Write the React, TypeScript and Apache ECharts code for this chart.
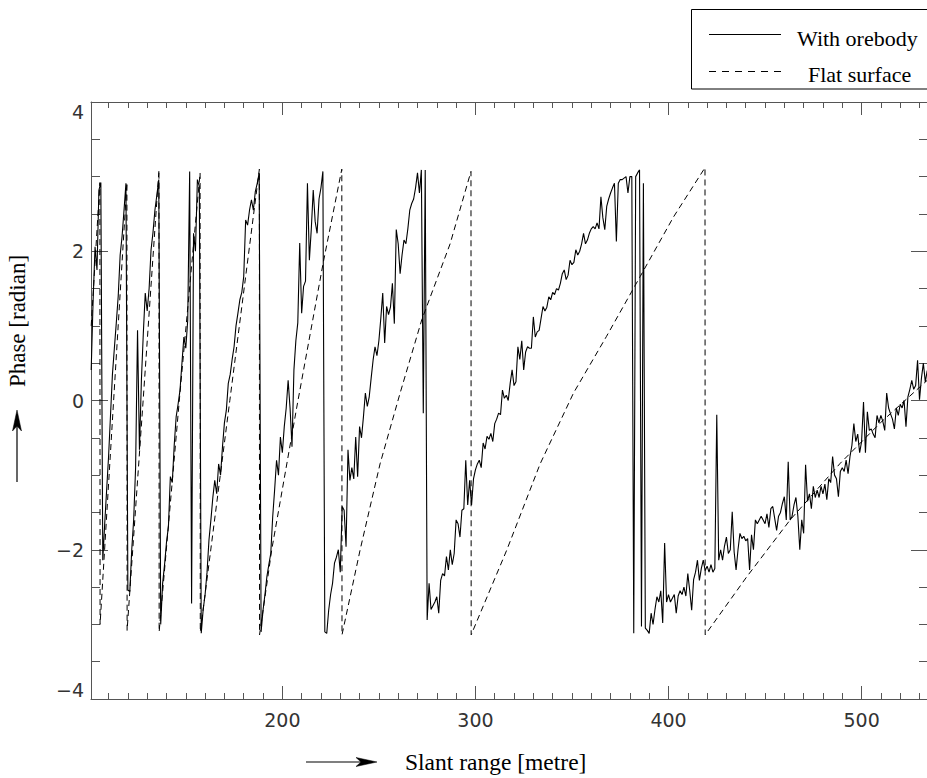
import React, { useEffect, useRef } from "react";
import * as echarts from "echarts";

// ---- data -------------------------------------------------------------
// slant range sampling grid (metre)
const rangeStart = 101;
const rangeStep = 1;

// measured phase (radian) "With orebody", one value per metre from 101 m
const orebodyPhase = [
  0.41, 1.35, 2.06, 1.75, 2.82, 2.92, -2.14, -1.65, -1.2, -0.75,
  -0.2, 0.35, 0.7, 1.04, 1.4, 1.95, 2.2, 2.55, 2.91, -2.54,
  -2.56, -2.0, -1.6, -0.9, 0.94, -0.66, 0.27, 0.9, 1.44, 1.2,
  1.5, 2.02, 2.25, 2.55, 2.75, 2.96, -3.0, -2.45, -2.2, -1.9,
  -1.69, -1.02, -1.1, -0.6, -0.22, -0.05, 0.14, 0.5, 0.85, 0.7,
  1.08, 3.07, -2.72, 2.24, 2.0, 2.96, 2.87, -3.12, -2.8, -2.6,
  -2.3, -1.87, -1.6, -1.3, -1.07, -1.25, -0.85, -1.0, -0.62, -0.3,
  -0.13, 0.23, 0.35, 0.55, 0.72, 1.0, 1.17, 1.35, 1.45, 1.66,
  2.42, 2.35, 2.55, 2.69, 2.55, 2.8, 2.91, 3.05, -3.1, -2.81,
  -2.6, -2.36, -2.2, -2.05, -1.56, -1.2, -0.8, -1.0, -0.49, -0.7,
  -0.35, -0.1, 0.27, -0.1, -0.62, 0.41, 0.8, 1.04, 2.11, 1.17,
  1.53, 1.6, 2.91, 1.88, 2.3, 2.82, 2.4, 2.24, 2.7, 2.85,
  3.07, -3.1, -3.12, -2.81, -2.6, -2.45, -2.18, -2.1, -2.0, -2.3,
  -1.42, -1.47, -1.96, -0.66, -1.07, -0.9, -1.05, -0.49, -1.02, -0.35,
  -0.5, -0.22, 0.1, -0.08, 0.05, 0.3, 0.54, 0.72, 0.6, 0.8,
  1.1, 1.44, 0.77, 1.26, 1.15, 1.25, 1.57, 1.03, 2.29, 2.1,
  1.7, 1.95, 2.15, 2.1, 2.3, 2.55, 2.64, 2.7, 2.85, 3.05,
  2.78, 3.09, -0.17, 3.09, -2.94, -2.45, -2.8, -2.75, -2.7, -2.63,
  -2.85, -2.41, -2.32, -2.35, -2.09, -2.27, -2.0, -2.2, -2.05, -1.6,
  -1.65, -1.83, -1.47, -1.45, -0.8, -1.4, -1.07, -1.4, -1.05, -0.93,
  -0.85, -0.8, -0.9, -0.57, -0.65, -0.48, -0.52, -0.44, -0.55, -0.31,
  -0.25, -0.17, -0.19, 0.14, 0.03, 0.07, 0.0, 0.23, 0.41, 0.2,
  0.25, 0.72, 0.55, 0.8, 0.41, 0.65, 0.72, 0.7, 0.7, 1.12,
  0.85, 0.92, 0.94, 1.1, 1.26, 1.2, 1.25, 1.39, 1.35, 1.45,
  1.42, 1.5, 1.48, 1.57, 1.7, 1.75, 1.62, 1.68, 1.88, 1.82,
  1.85, 2.02, 1.95, 2.0, 2.1, 2.24, 2.1, 2.15, 2.24, 2.3,
  2.33, 2.3, 2.38, 2.3, 2.73, 2.45, 2.29, 2.6, 2.7, 2.78,
  2.85, 2.91, 2.13, 2.91, 2.96, 2.96, 2.98, 3.0, 2.78, 3.0,
  3.0, -3.12, 3.0, 3.05, 3.09, -3.03, 2.91, -3.05, -3.08, -3.12,
  -2.85, -3.0, -2.8, -2.63, -2.7, -2.55, -2.98, -1.91, -2.7, -2.6,
  -2.7, -2.65, -2.6, -2.85, -2.62, -2.55, -2.6, -2.5, -2.62, -2.32,
  -2.55, -2.81, -2.4, -2.3, -2.14, -2.41, -2.25, -2.14, -2.28, -2.22,
  -2.3, -2.2, -2.3, -2.25, -0.19, -2.14, -2.0, -2.14, -1.95, -1.83,
  -2.05, -2.0, -1.49, -2.03, -2.27, -2.0, -1.78, -1.85, -1.82, -1.88,
  -1.85, -2.27, -1.8, -2.0, -1.6, -1.65, -1.6, -1.55, -1.6, -1.65,
  -1.52, -1.7, -1.45, -1.42, -1.58, -1.74, -1.55, -1.5, -1.38, -1.29,
  -1.6, -0.82, -1.6, -1.55, -1.4, -1.3, -1.55, -2.0, -1.6, -1.78,
  -0.86, -1.35, -1.25, -1.45, -1.15, -1.3, -1.2, -1.3, -1.15, -1.25,
  -1.12, -1.33, -1.05, -1.1, -0.75, -1.0, -1.05, -1.29, -0.95, -0.9,
  -0.95, -0.8, -0.98, -0.75, -0.6, -0.31, -0.55, -0.45, -0.7, -0.55,
  -0.02, -0.7, -0.15, -0.4, -0.38, -0.45, -0.5, -0.2, -0.3, -0.2,
  -0.28, -0.4, 0.1, -0.1, -0.18, -0.25, -0.38, -0.1, -0.2, -0.05,
  -0.1, 0.0, -0.35, 0.05, 0.15, 0.27, 0.15, 0.2, 0.54, 0.01,
  0.3, 0.5, 0.25, 0.4,
];

// "Flat surface" wrapped phase
const flatRange = [
  101, 105.5, 105.6, 112.5, 119.5, 119.6, 127.9, 136.1, 136.2, 146.8,
  157.4, 157.5, 172.8, 188.1, 188.2, 194.5, 207.4, 221.2, 230.8, 230.9,
  240.3, 250.6, 261, 272.2, 286.9, 297.7, 297.8, 316.3, 333.5, 350.8,
  367.9, 385.3, 402.6, 418.9, 419.0, 440.6, 463.0, 489.0, 509.7, 534.4,
];
const flatPhase = [
  1.0, 2.92, -3.0, -0.05, 2.92, -3.08, 0.0, 3.09, -3.1, 0.05,
  3.05, -3.1, 0.0, 3.1, -3.14, -2.0, -0.1, 1.85, 3.1, -3.14,
  -2.0, -0.85, 0.1, 1.08, 2.1, 3.07, -3.14, -2.0, -0.85, 0.1,
  0.86, 1.66, 2.46, 3.12, -3.14, -2.36, -1.6, -0.84, -0.3, 0.28,
];

// axes
const X_MIN = 100.9;
const X_MAX = 534.4;
const majorXTicks = [200, 300, 400, 500];
const minorXTicks = [
  110, 120, 130, 140, 150, 160, 170, 180, 190,
  210, 220, 230, 240, 250, 260, 270, 280, 290,
  310, 320, 330, 340, 350, 360, 370, 380, 390,
  410, 420, 430, 440, 450, 460, 470, 480, 490,
  510, 520, 530,
];
const Y_MIN = -4;
const Y_MAX = 4;
const Y_STEP = 2;

const xTitle = "Slant range [metre]";
const yTitle = "Phase [radian]";
const legendNames = ["With orebody", "Flat surface"];

export default function App() {
  const ref = useRef<HTMLDivElement>(null);

  useEffect(() => {
    if (!ref.current) return;
    const chart = echarts.init(ref.current, null, { renderer: "svg" });

    const orebodySeries = orebodyPhase.map((v, i) => [rangeStart + i * rangeStep, v]);
    const flatSeries = flatPhase.map((v, i) => [flatRange[i], v]);

    const axisColor = "#555";
    const tickFont = {
      fontFamily: "DejaVu Sans",
      fontSize: 19,
      color: "#333",
    };
    const serif = "'Liberation Serif', 'Times New Roman', serif";

    const xAxisBase = (position: string, major: boolean, labels: boolean) => ({
      type: "value",
      position,
      min: X_MIN,
      max: X_MAX,
      axisLine: { show: major, onZero: false, lineStyle: { color: axisColor, width: 1 } },
      axisTick: {
        show: true,
        inside: true,
        length: major ? 13 : 6,
        customValues: major ? majorXTicks : minorXTicks,
        lineStyle: { color: axisColor, width: 1 },
      },
      axisLabel: labels
        ? { show: true, customValues: majorXTicks, margin: 11, ...tickFont }
        : { show: false },
      splitLine: { show: false },
    });

    const yAxisBase = (position: string, labels: boolean) => ({
      type: "value",
      position,
      min: Y_MIN,
      max: Y_MAX,
      interval: Y_STEP,
      axisLine: { show: labels, onZero: false, lineStyle: { color: axisColor, width: 1 } },
      axisTick: { show: true, inside: true, length: 17, lineStyle: { color: axisColor, width: 1 } },
      minorTick: { show: true, splitNumber: 4, length: 9, lineStyle: { color: axisColor, width: 1 } },
      axisLabel: labels
        ? {
            show: true,
            margin: 7,
            ...tickFont,
            verticalAlignMinLabel: "bottom",
            verticalAlignMaxLabel: "top",
            formatter: (v: number) => (v < 0 ? "\u2212" + Math.abs(v) : String(v)),
          }
        : { show: false },
      splitLine: { show: false },
      minorSplitLine: { show: false },
    });

    const option: any = {
      animation: false,
      backgroundColor: "#fff",
      grid: {
        left: 91,
        top: 102,
        right: -1,
        bottom: 79,
        containLabel: false,
        outerBoundsMode: "none",
      },
      xAxis: [
        xAxisBase("bottom", true, true),
        xAxisBase("bottom", false, false),
        xAxisBase("top", true, false),
        xAxisBase("top", false, false),
      ],
      yAxis: [yAxisBase("left", true), yAxisBase("right", false)],
      series: [
        {
          type: "line",
          name: legendNames[0],
          data: orebodySeries,
          xAxisIndex: 0,
          yAxisIndex: 0,
          symbol: "none",
          showSymbol: false,
          silent: true,
          lineStyle: { color: "#000", width: 1.1 },
          itemStyle: { color: "#000" },
          z: 3,
        },
        {
          type: "line",
          name: legendNames[1],
          data: flatSeries,
          xAxisIndex: 0,
          yAxisIndex: 0,
          symbol: "none",
          showSymbol: false,
          silent: true,
          lineStyle: { color: "#000", width: 1, type: [6, 4] },
          itemStyle: { color: "#000" },
          z: 2,
        },
      ],
      graphic: [
        // legend box
        {
          type: "rect",
          shape: { x: 691.5, y: 9.5, width: 240, height: 79.5 },
          style: { fill: "none", stroke: "#000", lineWidth: 1 },
          silent: true,
        },
        {
          type: "line",
          shape: { x1: 709, y1: 34.5, x2: 781, y2: 34.5 },
          style: { stroke: "#000", lineWidth: 1 },
          silent: true,
        },
        {
          type: "text",
          x: 797,
          y: 38,
          style: {
            text: legendNames[0],
            font: `22px ${serif}`,
            fill: "#000",
            align: "left",
            verticalAlign: "middle",
          },
          silent: true,
        },
        {
          type: "line",
          shape: { x1: 709, y1: 71.5, x2: 781, y2: 71.5 },
          style: { stroke: "#000", lineWidth: 1, lineDash: [7, 6] },
          silent: true,
        },
        {
          type: "text",
          x: 808,
          y: 74,
          style: {
            text: legendNames[1],
            font: `22px ${serif}`,
            fill: "#000",
            align: "left",
            verticalAlign: "middle",
          },
          silent: true,
        },
        // x axis title with arrow
        {
          type: "line",
          shape: { x1: 306, y1: 762, x2: 362, y2: 762 },
          style: { stroke: "#000", lineWidth: 1.2 },
          silent: true,
        },
        {
          type: "polygon",
          shape: { points: [[356, 757.5], [377, 762], [356, 766.5], [361, 762]] },
          style: { fill: "#000", stroke: "#000", lineWidth: 0.5 },
          silent: true,
        },
        {
          type: "text",
          x: 405,
          y: 762,
          style: {
            text: xTitle,
            font: `23.5px ${serif}`,
            fill: "#000",
            align: "left",
            verticalAlign: "middle",
          },
          silent: true,
        },
        // y axis title with arrow
        {
          type: "line",
          shape: { x1: 17, y1: 482, x2: 17, y2: 426 },
          style: { stroke: "#000", lineWidth: 1.2 },
          silent: true,
        },
        {
          type: "polygon",
          shape: { points: [[12.5, 431], [17, 410], [21.5, 431], [17, 426]] },
          style: { fill: "#000", stroke: "#000", lineWidth: 0.5 },
          silent: true,
        },
        {
          type: "text",
          x: 17,
          y: 321,
          rotation: Math.PI / 2,
          style: {
            text: yTitle,
            font: `23px ${serif}`,
            fill: "#000",
            align: "center",
            verticalAlign: "middle",
          },
          silent: true,
        },
      ],
    };

    chart.setOption(option);
    return () => chart.dispose();
  }, []);

  return (
    <div
      ref={ref}
      style={{ position: "absolute", left: 0, top: 0, width: 927, height: 778 }}
    />
  );
}
